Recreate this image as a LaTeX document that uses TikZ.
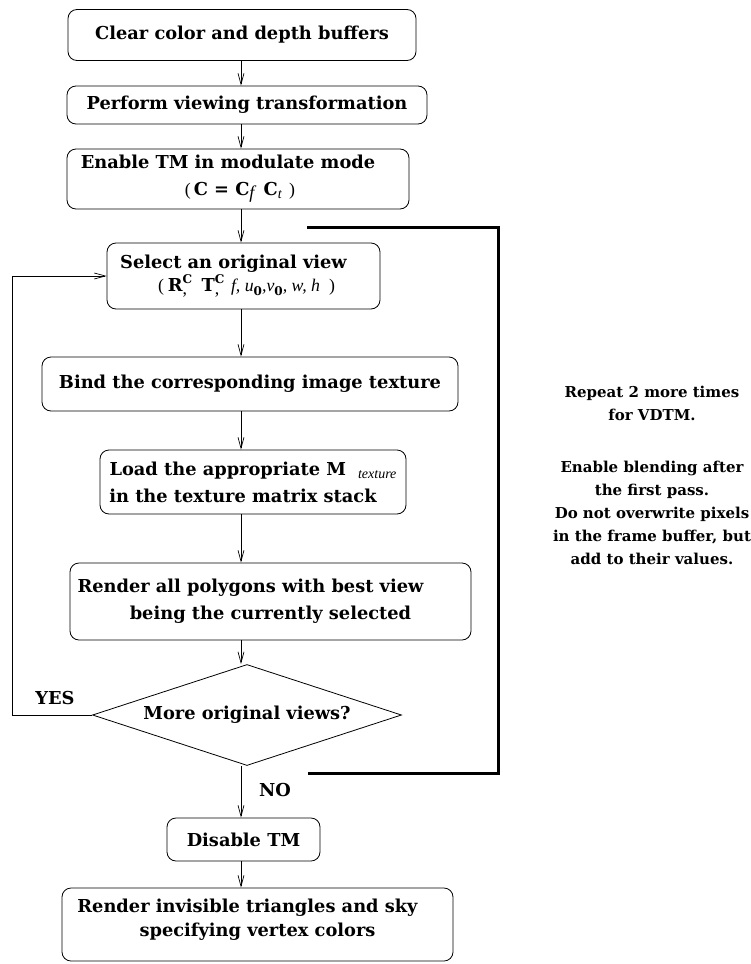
\documentclass[tikz,border=0pt]{standalone}
\usepackage{fontspec}
\setmainfont{DejaVu Serif}
\newfontfamily\tms{Liberation Serif}
\usetikzlibrary{shapes.geometric,arrows.meta}

% small raised / lowered pieces of the formulas
\newcommand{\lowit}[2][18bp]{\raisebox{-0.35ex}{\tms\mdseries\itshape\fontsize{#1}{#1}\selectfont #2}}
\newcommand{\lowbf}[1]{\raisebox{-0.5ex}{\fontsize{12bp}{12bp}\selectfont #1}}
\newcommand{\supsub}[2]{\makebox[0.9em][l]{\rlap{\raisebox{0.8ex}{\fontsize{12bp}{12bp}\selectfont #1}}\raisebox{-0.35ex}{\tms\mdseries #2}}}

\begin{document}
\begin{tikzpicture}[x=1bp,y=-1bp,>={Straight Barb[length=11bp,width=6bp]},
    font=\bfseries\fontsize{17.8bp}{27bp}\selectfont,
    proc/.style={draw,rounded corners=9bp,line width=0.8bp,align=center,inner sep=0pt},
    decide/.style={draw,diamond,aspect=3,line width=0.8bp,inner sep=0pt},
    flow/.style={->,line width=0.7bp}]
    \useasboundingbox (0,0) rectangle (751,964);
    \coordinate (spine) at (241,0);
    \coordinate (loopx) at (12,0);
    \node[proc,minimum width=348bp,minimum height=51bp] (clear) at (242,35) {Clear color and depth buffers};
    \node[proc,minimum width=360bp,minimum height=38bp] (perform) at (247,105) {Perform viewing transformation};
    \node[proc,minimum width=342bp,minimum height=60bp] (enable) at (238,179)
      {Enable TM in modulate mode\hspace*{20bp}\\
       \hspace*{4bp}{\tms\mdseries(\,}C = C\lowit{f}\, C\lowit[14bp]{t}\,{\tms\mdseries\ )}};
    \node[proc,minimum width=273bp,minimum height=66bp] (select) at (243.5,276)
      {Select an original view\hspace*{20bp}\\[-4bp]
       \hspace*{6bp}{\tms\mdseries(}\hspace{4bp}R\supsub{C}{,}\,T\supsub{C}{,}{\tms\mdseries\itshape f, u}\lowbf{0}{\tms\mdseries\itshape ,v}\lowbf{0}{\tms\mdseries\itshape , w, h}\hspace{9bp}{\tms\mdseries )}};
    \node[proc,minimum width=416bp,minimum height=54bp] (bind) at (250,384) {Bind the corresponding image texture};
    \node[proc,minimum width=306bp,minimum height=64bp] (load) at (253,482)
      {Load the appropriate M\hspace*{12bp}\lowit[14bp]{texture}\\
       in the texture matrix stack\hspace*{20bp}};
    \node[proc,minimum width=401bp,minimum height=77bp] (renderall) at (270.5,601.5)
      {Render all polygons with best view\hspace*{40bp}\\
       being the currently selected};
    \node[decide,minimum width=309bp,minimum height=101bp] (more) at (247,715) {More original views?};
    \node[proc,minimum width=153bp,minimum height=43bp] (disable) at (243.5,839.5) {Disable TM};
    \node[proc,minimum width=391bp,minimum height=73bp] (renderinv) at (257.5,924.5)
      {Render invisible triangles and sky\hspace*{20bp}\\[-3bp]
       specifying vertex colors\\[-14bp]\mbox{}};
    \node (yes) at (55,698) {YES};
    \node (no) at (275,790) {NO};
    \node[align=center,font=\bfseries\fontsize{15bp}{23bp}\selectfont] (repeat) at (652,475)
      {Repeat 2 more times\\for VDTM.\\[29bp]Enable blending after\\the first pass.\\
       Do not overwrite pixels\\in the frame buffer, but\\add to their values.};
    % main flow
    \draw[flow] (clear.south -| spine) -- (perform.north -| spine);
    \draw[flow] (perform.south -| spine) -- (enable.north -| spine);
    \draw[flow] (enable.south -| spine) -- (select.north -| spine);
    \draw[flow] (select.south -| spine) -- (bind.north -| spine);
    \draw[flow] (bind.south -| spine) -- (load.north -| spine);
    \draw[flow] (load.south -| spine) -- (renderall.north -| spine);
    \draw[flow] (renderall.south -| spine) -- (more.north -| spine);
    \draw[flow] (more.south -| spine) -- (disable.north -| spine);
    \draw[flow] (disable.south -| spine) -- (renderinv.north -| spine);
    % loop back for the next view
    \draw[flow] (more.west) -- (more.west -| loopx) |- (select.west);
    % bracket of the repeated passes
    \coordinate (btop) at (307,227);
    \coordinate (bbot) at (308,773);
    \draw[line width=3bp] (btop) -- (498,227) -- (498,773) -- (bbot);
\end{tikzpicture}
\end{document}
